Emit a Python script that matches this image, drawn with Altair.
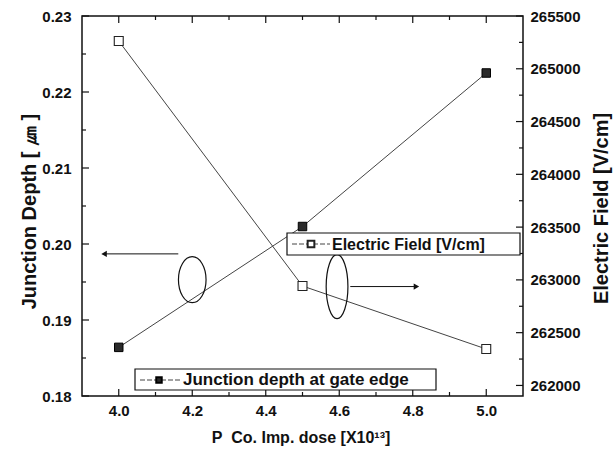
import altair as alt
import pandas as pd

# ---------------- data ----------------
dose = [4.0, 4.5, 5.0]
junction_depth = [0.1864, 0.2023, 0.2225]
electric_field = [265263, 262942, 262345]

x_major = [4.0, 4.2, 4.4, 4.6, 4.8, 5.0]
x_minor = [4.1, 4.3, 4.5, 4.7, 4.9]
jd_major = [0.18, 0.19, 0.20, 0.21, 0.22, 0.23]
jd_minor = [0.185, 0.195, 0.205, 0.215, 0.225]
ef_major = [262000, 262500, 263000, 263500, 264000, 264500, 265000, 265500]
ef_minor = [262250, 262750, 263250, 263750, 264250, 264750, 265250]

x_domain = [3.9, 5.1]
jd_domain = [0.18, 0.23]
ef_domain = [261900, 265500]

x_title = "P\u00a0\u00a0Co. Imp. dose [X10¹³]"
jd_title = "Junction Depth [\u00a0㎛\u00a0]"
ef_title = "Electric Field [V/cm]"
legend_labels = ["Electric Field [V/cm]", "Junction depth at gate edge"]

# annotation anchors (data coordinates, left axis)
ellipse_left = {"x": 4.2, "y": 0.1953}
ellipse_right = {"x": 4.594, "y": 0.1944}
arrow_left = {"x": 4.162, "x2": 3.96, "y": 0.1987}
arrow_right = {"x": 4.63, "x2": 4.81, "y": 0.1944}

# ---------------- layout ----------------
W, H = 441, 380
FONT = "Liberation Sans"
INK = "#111111"
LINE = "#444444"

xs = alt.Scale(domain=x_domain, nice=False, zero=False)
jds = alt.Scale(domain=jd_domain, nice=False, zero=False)
efs = alt.Scale(domain=ef_domain, nice=False, zero=False)

x_axis = alt.Axis(
    title=x_title, values=x_major, format=".1f", ticks=False, domain=False, grid=False,
    labelFont=FONT, labelFontSize=15, labelFontWeight="bold", labelColor=INK, labelPadding=7,
    titleFont=FONT, titleFontSize=16, titleFontWeight="bold", titleColor=INK,
    titleX=W / 2 - 2, titleY=41, titleBaseline="middle",
)
jd_axis = alt.Axis(
    title=jd_title, orient="left", values=jd_major, format=".2f", ticks=False, domain=False,
    grid=False, labelFont=FONT, labelFontSize=15, labelFontWeight="bold", labelColor=INK,
    labelPadding=11, titleFont=FONT, titleFontSize=20, titleFontWeight="bold", titleColor=INK,
    titleAngle=270, titleX=-53, titleY=H / 2 + 5, titleBaseline="middle", titleAlign="center",
)
ef_axis = alt.Axis(
    title=ef_title, orient="right", values=ef_major, format="d", ticks=False, domain=False,
    grid=False, labelFont=FONT, labelFontSize=15, labelFontWeight="bold", labelColor=INK,
    labelPadding=7, titleFont=FONT, titleFontSize=20, titleFontWeight="bold", titleColor=INK,
    titleAngle=270, titleX=78, titleY=H / 2 + 2, titleBaseline="middle", titleAlign="center",
)

df = pd.DataFrame({"x": dose, "jd": junction_depth, "ef": electric_field})

base = alt.Chart(df)

jd_line = base.mark_line(color=LINE, strokeWidth=1).encode(
    x=alt.X("x:Q", scale=xs, axis=x_axis),
    y=alt.Y("jd:Q", scale=jds, axis=jd_axis),
)
jd_pts = base.mark_point(shape="square", filled=True, fill="#2a2a2a", stroke="#000000",
                         strokeWidth=1, size=72, opacity=1).encode(
    x=alt.X("x:Q", scale=xs, axis=None),
    y=alt.Y("jd:Q", scale=jds, axis=None),
)
ef_line = base.mark_line(color=LINE, strokeWidth=1).encode(
    x=alt.X("x:Q", scale=xs, axis=None),
    y=alt.Y("ef:Q", scale=efs, axis=ef_axis),
)
ef_pts = base.mark_point(shape="square", filled=True, fill="white", stroke="#222222",
                         strokeWidth=1.1, size=80, opacity=1).encode(
    x=alt.X("x:Q", scale=xs, axis=None),
    y=alt.Y("ef:Q", scale=efs, axis=None),
)


def xticks(values, length):
    d = pd.DataFrame({"v": values})
    bottom = alt.Chart(d).mark_rule(color=INK, strokeWidth=1.2).encode(
        x=alt.X("v:Q", scale=xs, axis=None), y=alt.value(H), y2=alt.value(H - length))
    top = alt.Chart(d).mark_rule(color=INK, strokeWidth=1.2).encode(
        x=alt.X("v:Q", scale=xs, axis=None), y=alt.value(0), y2=alt.value(length))
    return [bottom, top]


def yticks(values, scale, length, side):
    d = pd.DataFrame({"v": values})
    if side == "left":
        x0, x1 = 0, length
    else:
        x0, x1 = W, W - length
    return alt.Chart(d).mark_rule(color=INK, strokeWidth=1.2).encode(
        y=alt.Y("v:Q", scale=scale, axis=None), x=alt.value(x0), x2=alt.value(x1))


ticks = (xticks(x_major, 7) + xticks(x_minor, 4)
         + [yticks(jd_major, jds, 7, "left"), yticks(jd_minor, jds, 4, "left"),
            yticks(ef_major, efs, 7, "right"), yticks(ef_minor, efs, 4, "right")])

# ellipses (custom symbol paths) and arrows
ell1 = alt.Chart(pd.DataFrame([ellipse_left])).mark_point(
    shape="M 0 -1 A 0.6 1 0 1 1 0 1 A 0.6 1 0 1 1 0 -1 Z",
    size=2116, filled=False, stroke=INK, strokeWidth=1.2, opacity=1,
).encode(x=alt.X("x:Q", scale=xs, axis=None), y=alt.Y("y:Q", scale=jds, axis=None))
ell2 = alt.Chart(pd.DataFrame([ellipse_right])).mark_point(
    shape="M 0 -1 A 0.34 1 0 1 1 0 1 A 0.34 1 0 1 1 0 -1 Z",
    size=4096, filled=False, stroke=INK, strokeWidth=1.2, opacity=1,
).encode(x=alt.X("x:Q", scale=xs, axis=None), y=alt.Y("y:Q", scale=jds, axis=None))

arr_df = pd.DataFrame([arrow_left, arrow_right])
arr_df["head"] = ["triangle-left", "triangle-right"]
arr_line = alt.Chart(arr_df).mark_rule(color=INK, strokeWidth=1).encode(
    x=alt.X("x:Q", scale=xs, axis=None), x2="x2:Q", y=alt.Y("y:Q", scale=jds, axis=None))
arr_head = alt.Chart(arr_df).mark_point(filled=True, color=INK, size=40, opacity=1).encode(
    x=alt.X("x2:Q", scale=xs, axis=None), y=alt.Y("y:Q", scale=jds, axis=None),
    shape=alt.Shape("head:N", scale=None))

# legends (pixel layout inside the plot)
leg = pd.DataFrame({"label": legend_labels})
ef_leg = [
    alt.Chart(leg.iloc[[0]]).mark_rect(fill="white", stroke=INK, strokeWidth=1.2).encode(
        x=alt.value(205), x2=alt.value(438), y=alt.value(217), y2=alt.value(239)),
    alt.Chart(leg.iloc[[0]]).mark_rule(color=LINE, strokeWidth=1, strokeDash=[5, 2]).encode(
        x=alt.value(210), x2=alt.value(248), y=alt.value(228)),
    alt.Chart(leg.iloc[[0]]).mark_point(shape="square", filled=True, fill="white",
                                        stroke="#222222", size=45, opacity=1).encode(
        x=alt.value(229), y=alt.value(228)),
    alt.Chart(leg.iloc[[0]]).mark_text(align="left", baseline="middle", font=FONT,
                                       fontSize=16, fontWeight="bold", color=INK).encode(
        x=alt.value(250), y=alt.value(229), text="label:N"),
]
jd_leg = [
    alt.Chart(leg.iloc[[1]]).mark_rect(fill="white", stroke=INK, strokeWidth=1.2).encode(
        x=alt.value(53), x2=alt.value(354), y=alt.value(353), y2=alt.value(374)),
    alt.Chart(leg.iloc[[1]]).mark_rule(color=LINE, strokeWidth=1, strokeDash=[5, 2]).encode(
        x=alt.value(58), x2=alt.value(98), y=alt.value(364)),
    alt.Chart(leg.iloc[[1]]).mark_point(shape="square", filled=True, fill="#2a2a2a",
                                        stroke="#000000", size=30, opacity=1).encode(
        x=alt.value(77), y=alt.value(364)),
    alt.Chart(leg.iloc[[1]]).mark_text(align="left", baseline="middle", font=FONT,
                                       fontSize=17, fontWeight="bold", color=INK).encode(
        x=alt.value(101), y=alt.value(364), text="label:N"),
]

chart = alt.layer(
    jd_line, ef_line, *ticks, ell1, ell2, arr_line, arr_head, jd_pts, ef_pts,
    *ef_leg, *jd_leg,
).resolve_scale(y="independent", x="shared").resolve_axis(
    y="independent", x="independent"
).properties(
    width=W, height=H,
    autosize=alt.AutoSizeParams(type="none"),
    padding={"left": 82, "top": 16, "right": 93, "bottom": 56},
    background="white",
).configure_view(stroke=INK, strokeWidth=1.5)

chart.save("out.html", embed_options={"renderer": "svg", "actions": False})
